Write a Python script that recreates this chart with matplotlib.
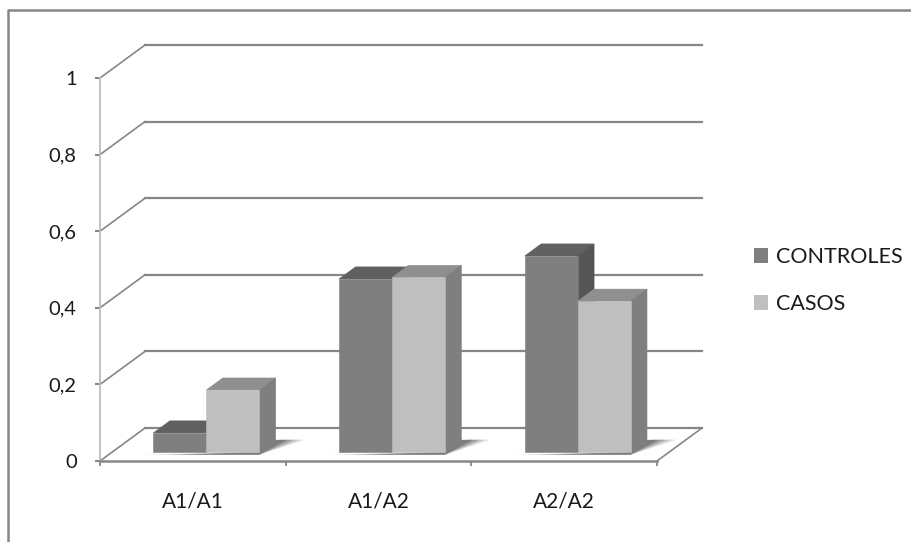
import matplotlib
matplotlib.use("Agg")
import matplotlib.pyplot as plt
from matplotlib.patches import Polygon, Patch
from matplotlib.lines import Line2D

categories = ["A1/A1", "A1/A2", "A2/A2"]
controles = [0.05, 0.452, 0.512]
casos = [0.162, 0.456, 0.394]
y_ticks = [0, 0.2, 0.4, 0.6, 0.8, 1]
y_labels = ["0", "0,2", "0,4", "0,6", "0,8", "1"]

W, H = 911, 542
plt.rcParams["font.family"] = ["Lato", "DejaVu Sans"]

fig = plt.figure(figsize=(W / 100, H / 100), dpi=100)
ax = fig.add_axes([100 / W, (H - 461) / H, 557 / W, 383 / H])
ax.set_xlim(0, 3)
ax.set_ylim(0, 1)

# Oblique projection: depth 0 is the front plane, depth 1 the back wall
DEPTH_X = 45 / (557 / 3)
DEPTH_Y = 33 / 383


def proj(x, y, d):
    return (x + d * DEPTH_X, y + d * DEPTH_Y)


GRID = "#868686"
for value in y_ticks:
    ax.add_line(Line2D(*zip(proj(0, value, 1), proj(3, value, 1)),
                       color=GRID, lw=1.6, clip_on=False, zorder=1))
    ax.add_line(Line2D(*zip(proj(0, value, 0), proj(0, value, 1)),
                       color=GRID, lw=1.2, clip_on=False, zorder=1))
# right edge of the floor
ax.add_line(Line2D(*zip(proj(3, 0, 0), proj(3, 0, 1)), color=GRID, lw=1.2,
                   clip_on=False, zorder=1))

BAR_START = 0.222
BAR_WIDTH = 0.285
D0, D1 = 0.27, 0.636
SHADES = {
    "controles": ("#7f7f7f", "#606060", "#555555"),
    "casos": ("#bfbfbf", "#8f8f8f", "#7f7f7f"),
}


def shadow(x0, x1):
    # soft cast shadow on the floor, built from stacked translucent layers
    for grow, alpha in [(1.0, 0.16), (0.8, 0.22), (0.6, 0.3), (0.4, 0.4)]:
        pts = [proj(x0 - 0.36 * grow, -0.007, D0), proj(x1, -0.007, D0),
               proj(x1 + 0.16 * grow, 0.001, D1), proj(x1 - 0.02, 0, D1),
               proj(x1, 0, D0)]
        ax.add_patch(Polygon(pts, closed=True, fc="#4d4d4d", ec="none", alpha=alpha,
                             clip_on=False, zorder=2))


def box(x0, x1, value, shades, z):
    front, top, side = shades
    faces = [
        ([proj(x0, value, D0), proj(x1, value, D0), proj(x1, value, D1), proj(x0, value, D1)], top),
        ([proj(x1, 0, D0), proj(x1, 0, D1), proj(x1, value, D1), proj(x1, value, D0)], side),
        ([proj(x0, 0, D0), proj(x1, 0, D0), proj(x1, value, D0), proj(x0, value, D0)], front),
    ]
    for pts, colour in faces:
        ax.add_patch(Polygon(pts, closed=True, fc=colour, ec=colour, lw=0.4,
                             clip_on=False, zorder=z))


for i in range(len(categories)):
    left = i + BAR_START
    mid = left + BAR_WIDTH
    right = mid + BAR_WIDTH
    shadow(mid, right)
    box(left, mid, controles[i], SHADES["controles"], 3)
    box(mid, right, casos[i], SHADES["casos"], 4)

# Axes
for name in ("top", "right"):
    ax.spines[name].set_visible(False)
ax.spines["left"].set_color("#bdbdbd")
ax.spines["left"].set_linewidth(1.3)
ax.spines["bottom"].set_color(GRID)
ax.spines["bottom"].set_linewidth(1.8)
ax.spines["bottom"].set_zorder(5)

ax.set_yticks(y_ticks, y_labels)
ax.set_xticks(range(len(categories) + 1), [""] * (len(categories) + 1))
ax.set_xticks([i + 0.5 for i in range(len(categories))], categories, minor=True)
ax.tick_params(axis="y", length=3.8, width=1.5, color=GRID, pad=13, labelsize=14.5,
               labelcolor="#1a1a1a")
ax.tick_params(axis="x", which="major", length=3.8, width=1.3, color=GRID)
ax.tick_params(axis="x", which="minor", length=0, pad=22, labelsize=15, labelcolor="#1a1a1a")

# Legend
handles = [Patch(fc=SHADES["controles"][0], ec="none"), Patch(fc=SHADES["casos"][0], ec="none")]
fig.legend(handles, ["CONTROLES", "CASOS"], loc="upper left",
           bbox_to_anchor=(754 / W, 1 - 247 / H), frameon=False, fontsize=15.5,
           handlelength=0.66, handleheight=0.66, handletextpad=0.36, labelspacing=1.25,
           borderpad=0, borderaxespad=0, labelcolor="#1a1a1a")

# Chart frame, running off the top-right and bottom of the canvas
fig.add_artist(Line2D([7.5 / W, 7.5 / W, 1], [0, 1 - 10 / H, 1 - 10 / H],
                      transform=fig.transFigure, color=GRID, lw=1.8))

fig.savefig("out.png", dpi=100, facecolor="white")
